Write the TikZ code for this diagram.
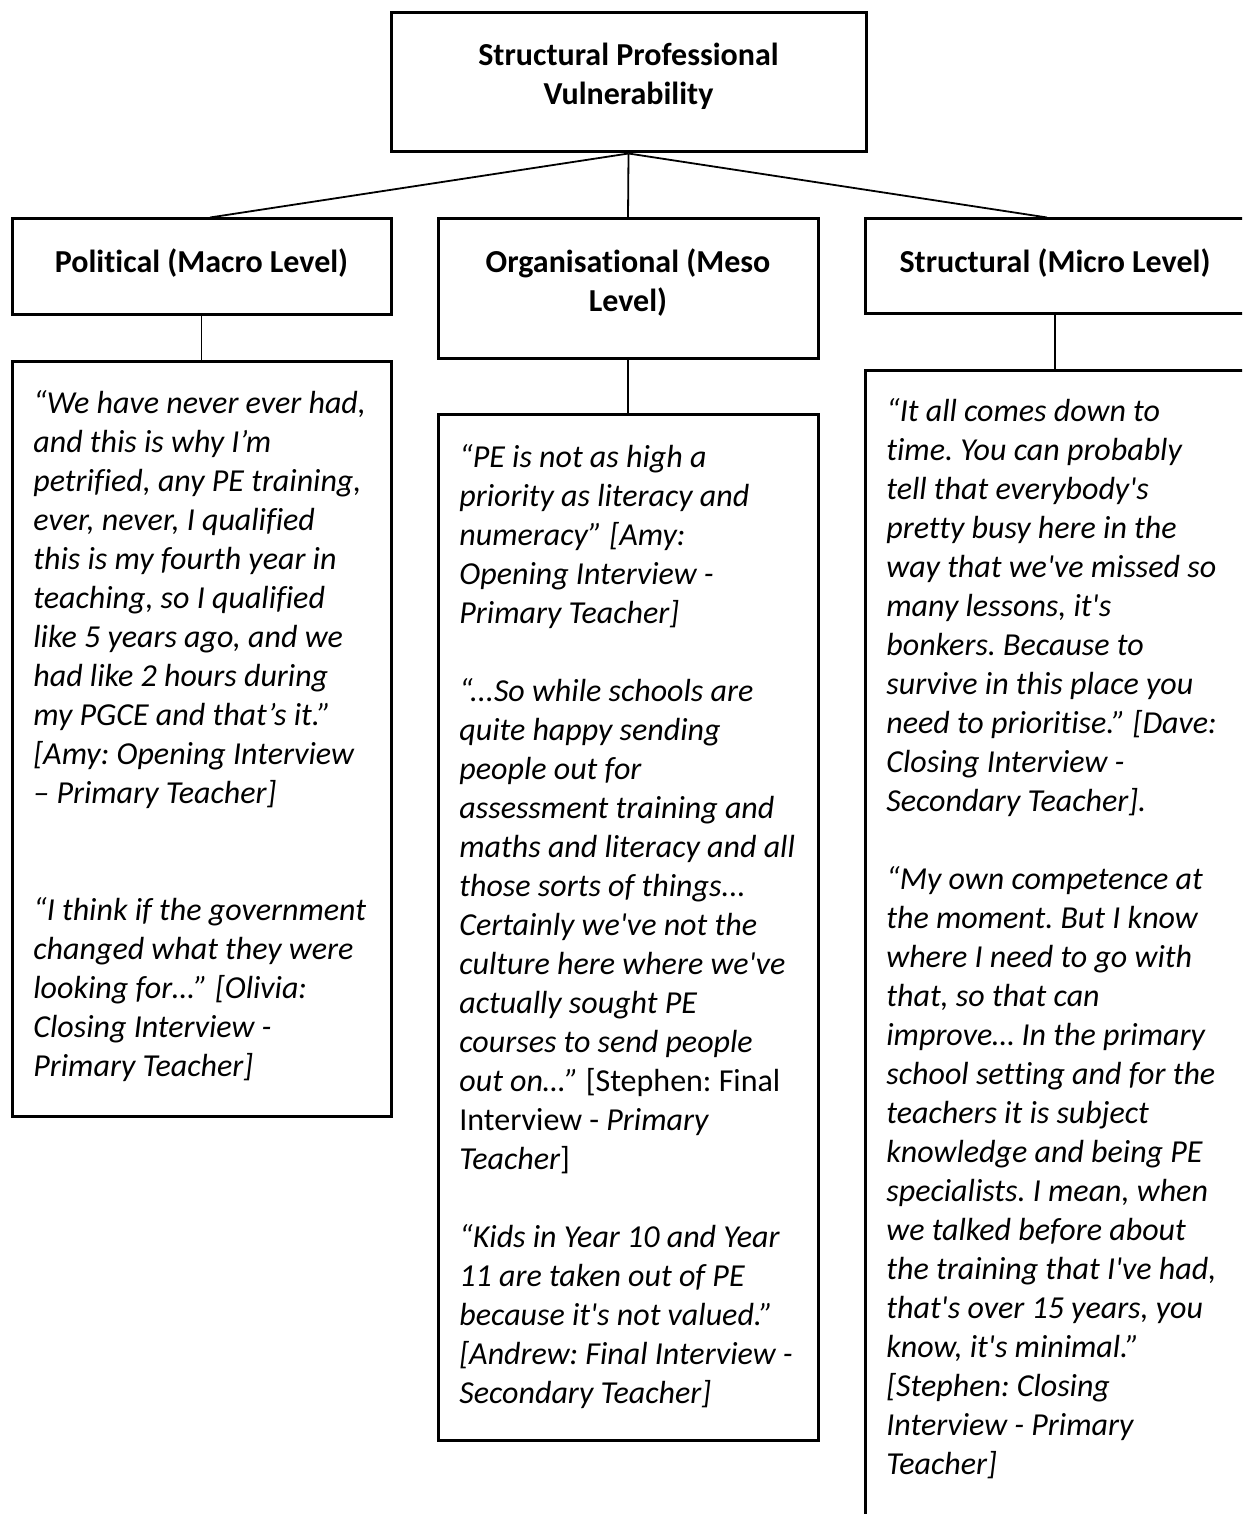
\documentclass[tikz,border=0pt]{standalone}
\usepackage{fontspec}
\usetikzlibrary{calc}
\setmainfont{Carlito}[Ligatures={TeXOff,NoCommon}]
\frenchspacing
\begin{document}
\begin{tikzpicture}[x=0.5pt,y=-0.5pt,
  box/.style={draw=black,line width=1.5pt,rectangle,inner sep=0pt},
  conn/.style={draw=black,line width=0.9pt},
  head/.style={anchor=north,inner sep=0pt,align=center,font=\fontsize{16}{19.5}\selectfont\bfseries},
  quote/.style={anchor=north west,inner sep=0pt,align=left,font=\fontsize{16}{19.5}\selectfont\itshape}]
\clip (0,0) rectangle (1242,1514);
\fill[white] (0,0) rectangle (1242,1514);
% boxes
\node[box,minimum width=237.5pt,minimum height=69.5pt] (top) at (628.5,82.5) {};
\node[box,minimum width=189.5pt,minimum height=47.5pt] (lh) at (201.5,266.5) {};
\node[box,minimum width=190pt,minimum height=69.5pt] (mh) at (628,288.5) {};
\node[box,minimum width=190pt,minimum height=47pt] (rh) at (1055,266) {};
\node[box,minimum width=189.5pt,minimum height=377.5pt] (lq) at (201.5,738.5) {};
\node[box,minimum width=190pt,minimum height=513pt] (mq) at (628,927) {};
\node[box,minimum width=190pt,minimum height=585pt] (rq) at (1055,955) {};
% connectors
\draw[conn] (top.south) -- ($(lh.north)+(8.5,0)$);
\draw[conn] (top.south) -- (mh.north);
\draw[conn] (top.south) -- ($(rh.north)+(-8,0)$);
\draw[conn] (lh.south) -- (lq.north);
\draw[conn] (mh.south) -- (mq.north);
\draw[conn] (rh.south) -- (rq.north);
% header texts
\node[head] (toptext) at (628.5,37.7) {\strut Structural Professional\\Vulnerability};
\node[head] (lhtext) at (201.5,244.4) {\strut Political (Macro Level)};
\node[head] (mhtext) at (628,244.4) {\strut Organisational (Meso\\Level)};
\node[head] (rhtext) at (1055,244.4) {\strut Structural (Micro Level)};
% quote texts
\node[quote] (lqtext) at (33,385.7) {\strut “We have never ever had,\\
and this is why I’m\\
petrified, any PE training,\\
ever, never, I qualified\\
this is my fourth year in\\
teaching, so I qualified\\
like 5 years ago, and we\\
had like 2 hours during\\
my PGCE and that’s it.”\\
{[}Amy: Opening Interview\\
– Primary Teacher]\\[39pt]
“I think if the government\\
changed what they were\\
looking for…” [Olivia:\\
Closing Interview -\\
Primary Teacher]};
\node[quote] (mqtext) at (459,439.7) {\strut “PE is not as high a\\
priority as literacy and\\
numeracy” [Amy:\\
Opening Interview -\\
Primary Teacher]\\[19.5pt]
“...So while schools are\\
quite happy sending\\
people out for\\
assessment training and\\
maths and literacy and all\\
those sorts of things...\\
Certainly we've not the\\
culture here where we've\\
actually sought PE\\
courses to send people\\
out on…” \upshape[Stephen: Final\\
\upshape Interview - \itshape Primary\\
Teacher\upshape]\\[19.5pt]
\itshape “Kids in Year 10 and Year\\
11 are taken out of PE\\
because it's not valued.”\\
{[}Andrew: Final Interview -\\
Secondary Teacher]};
\node[quote] (rqtext) at (886,394) {\strut “It all comes down to\\
time. You can probably\\
tell that everybody's\\
pretty busy here in the\\
way that we've missed so\\
many lessons, it's\\
bonkers. Because to\\
survive in this place you\\
need to prioritise.” [Dave:\\
Closing Interview -\\
Secondary Teacher].\\[19.5pt]
“My own competence at\\
the moment. But I know\\
where I need to go with\\
that, so that can\\
improve… In the primary\\
school setting and for the\\
teachers it is subject\\
knowledge and being PE\\
specialists. I mean, when\\
we talked before about\\
the training that I've had,\\
that's over 15 years, you\\
know, it's minimal.”\\
{[}Stephen: Closing\\
Interview - Primary\\
Teacher]};
\end{tikzpicture}
\end{document}
